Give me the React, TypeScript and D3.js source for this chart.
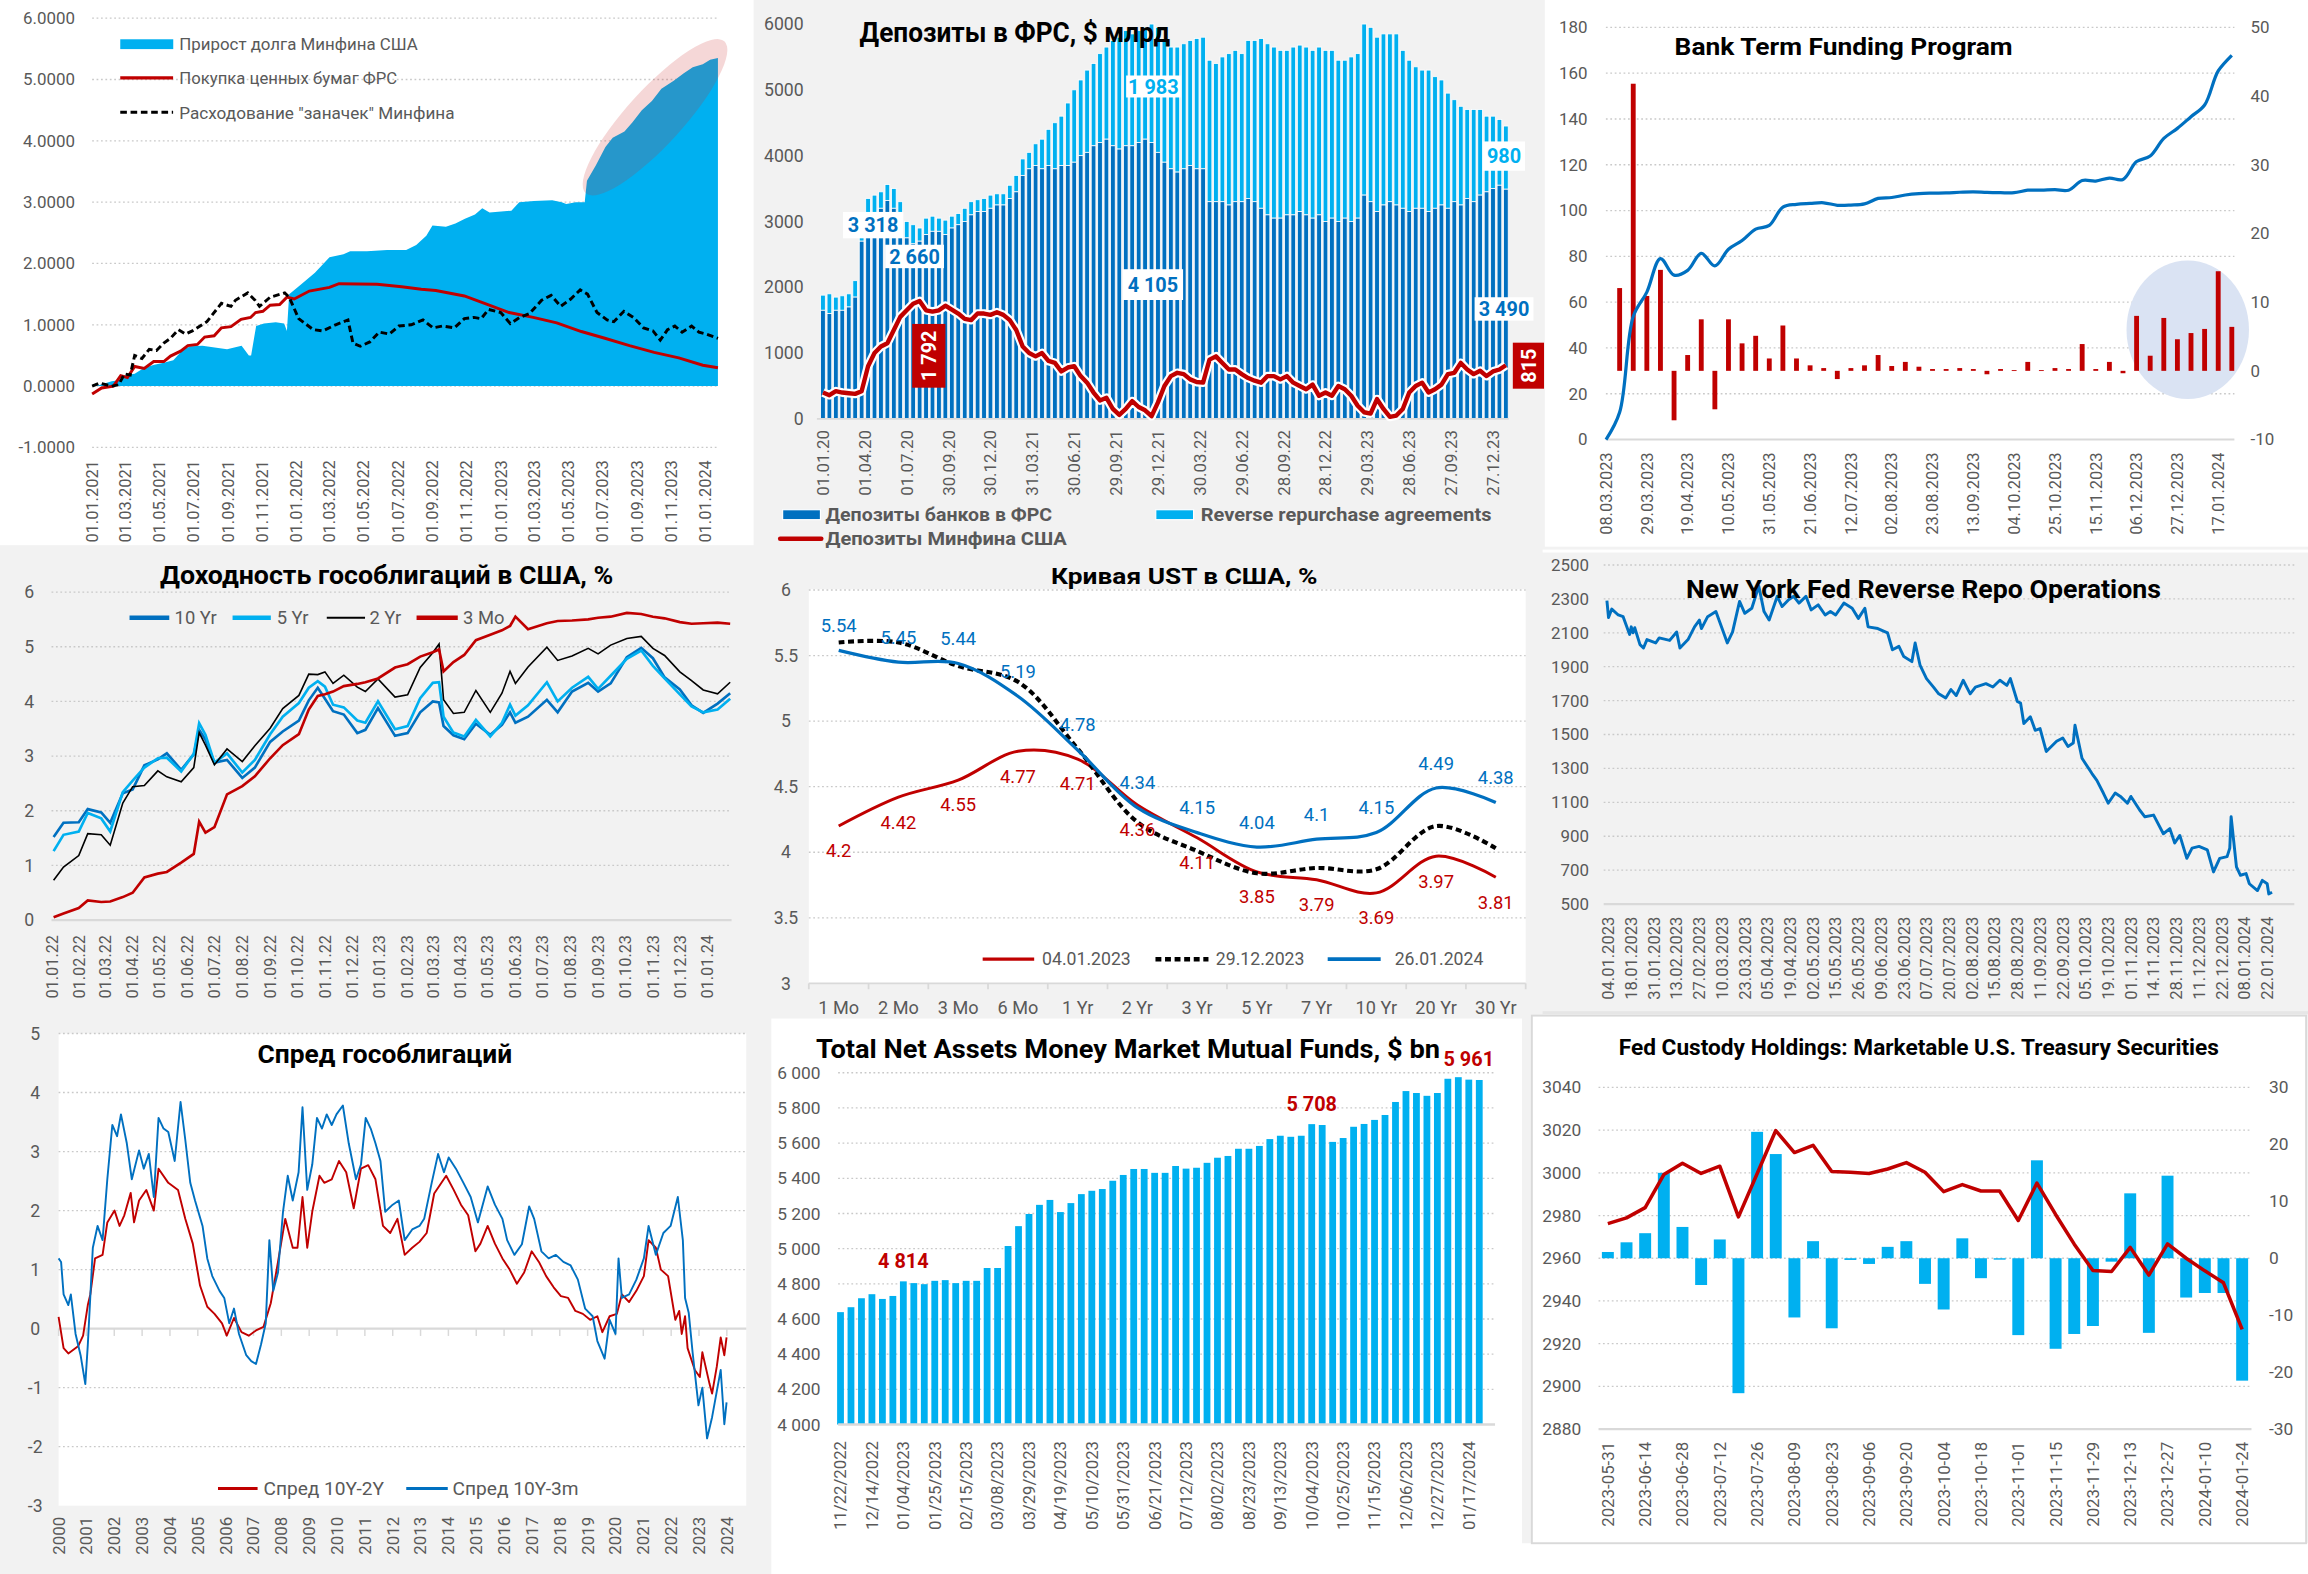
import * as d3 from 'd3'

const FONT = 'Roboto, "Noto Sans", "DejaVu Sans", sans-serif'
const TXT = '#595959'
const GRID = '#c9c9c9'
const AXIS = '#d9d9d9'
const BLUE = '#0070c0'
const LIGHT = '#00b0f0'
const RED = '#c00000'
const PANEL = '#f2f2f2'
const DOT = '1.2 1.8'

const p = d3.timeParse('%Y-%m-%d')
const loc = d3.formatLocale({ decimal: '.', thousands: ' ', grouping: [3], currency: ['', ''], minus: '-' })
const fmt4 = loc.format('.4f')
const fmtSpace = loc.format(',')
const fmtDMY = d3.timeFormat('%d.%m.%Y')
const fmtDMy = d3.timeFormat('%d.%m.%y')

// ---------------- panel 1: debt growth vs Fed purchases
const debtGrowth: [string, number][] = [
  ['2021-01-01', 0], ['2021-01-14', 0.02], ['2021-02-05', 0.08], ['2021-02-22', 0.1], ['2021-03-03', 0.18],
  ['2021-03-18', 0.2], ['2021-04-04', 0.3], ['2021-04-22', 0.35], ['2021-05-09', 0.38], ['2021-05-26', 0.42],
  ['2021-06-13', 0.6], ['2021-06-26', 0.65], ['2021-07-17', 0.66], ['2021-08-08', 0.63], ['2021-08-30', 0.6],
  ['2021-09-25', 0.66], ['2021-10-08', 0.5], ['2021-10-12', 0.5], ['2021-10-21', 0.98], ['2021-11-04', 1.02],
  ['2021-11-25', 1.04], ['2021-12-10', 1.02], ['2021-12-15', 0.9], ['2021-12-19', 1.5], ['2022-01-08', 1.65],
  ['2022-02-03', 1.85], ['2022-03-01', 2.1], ['2022-03-26', 2.15], ['2022-04-07', 2.2], ['2022-05-07', 2.2],
  ['2022-06-12', 2.22], ['2022-07-16', 2.22], ['2022-08-03', 2.3], ['2022-08-21', 2.45], ['2022-09-01', 2.62],
  ['2022-09-25', 2.6], ['2022-10-12', 2.65], ['2022-10-29', 2.73], ['2022-11-16', 2.8], ['2022-11-29', 2.9],
  ['2022-12-12', 2.83], ['2023-01-07', 2.85], ['2023-01-20', 2.86], ['2023-02-03', 3.0], ['2023-03-01', 3.02],
  ['2023-04-03', 3.03], ['2023-04-20', 3.0], ['2023-04-28', 2.97], ['2023-05-15', 3.0], ['2023-05-31', 3.0],
  ['2023-06-04', 3.35], ['2023-06-20', 3.6], ['2023-07-07', 3.9], ['2023-07-20', 4.05], ['2023-08-10', 4.15],
  ['2023-08-24', 4.3], ['2023-09-10', 4.5], ['2023-09-28', 4.65], ['2023-10-15', 4.85], ['2023-11-06', 4.98],
  ['2023-11-24', 5.1], ['2023-12-10', 5.2], ['2023-12-28', 5.25], ['2024-01-10', 5.32], ['2024-01-24', 5.35],
]
const fedPurchases: [string, number][] = [
  ['2021-01-01', -0.13], ['2021-01-18', -0.03], ['2021-02-08', 0], ['2021-02-21', 0.17], ['2021-03-05', 0.14],
  ['2021-03-18', 0.32], ['2021-04-04', 0.29], ['2021-04-21', 0.4], ['2021-05-09', 0.4], ['2021-05-21', 0.49],
  ['2021-06-08', 0.57], ['2021-06-21', 0.66], ['2021-07-08', 0.68], ['2021-07-21', 0.8], ['2021-08-07', 0.82],
  ['2021-08-20', 0.95], ['2021-09-06', 0.97], ['2021-09-24', 1.09], ['2021-10-11', 1.12], ['2021-10-20', 1.2],
  ['2021-11-02', 1.22], ['2021-11-15', 1.32], ['2021-12-02', 1.33], ['2021-12-15', 1.45], ['2021-12-28', 1.42],
  ['2022-01-24', 1.55], ['2022-03-01', 1.61], ['2022-03-18', 1.67], ['2022-05-25', 1.66], ['2022-07-08', 1.62],
  ['2022-08-12', 1.58], ['2022-09-07', 1.56], ['2022-10-28', 1.47], ['2022-12-03', 1.35], ['2023-01-16', 1.2],
  ['2023-02-28', 1.12], ['2023-04-11', 1.03], ['2023-05-25', 0.89], ['2023-07-06', 0.78], ['2023-08-19', 0.66],
  ['2023-10-02', 0.55], ['2023-11-15', 0.46], ['2023-12-28', 0.34], ['2024-01-24', 0.3],
]
const treasuryCash: [string, number][] = [
  ['2021-01-01', 0], ['2021-01-14', 0.05], ['2021-02-05', 0], ['2021-02-17', 0.02], ['2021-02-28', 0.2],
  ['2021-03-10', 0.18], ['2021-03-18', 0.5], ['2021-03-31', 0.45], ['2021-04-13', 0.6], ['2021-04-26', 0.58],
  ['2021-05-09', 0.7], ['2021-05-21', 0.78], ['2021-06-04', 0.92], ['2021-06-17', 0.85], ['2021-06-29', 0.9],
  ['2021-07-25', 1.05], ['2021-08-20', 1.35], ['2021-09-06', 1.3], ['2021-09-14', 1.4], ['2021-10-06', 1.52],
  ['2021-10-19', 1.4], ['2021-10-27', 1.3], ['2021-11-15', 1.45], ['2021-12-11', 1.52], ['2021-12-19', 1.45],
  ['2022-01-05', 1.1], ['2022-01-31', 0.92], ['2022-02-17', 0.9], ['2022-03-12', 1.0], ['2022-04-03', 1.08],
  ['2022-04-12', 0.7], ['2022-04-25', 0.65], ['2022-05-12', 0.72], ['2022-05-29', 0.88], ['2022-06-16', 0.85],
  ['2022-07-03', 0.98], ['2022-07-25', 1.0], ['2022-08-15', 1.08], ['2022-09-02', 0.95], ['2022-09-19', 0.98],
  ['2022-10-10', 0.95], ['2022-10-28', 1.1], ['2022-11-14', 1.12], ['2022-11-27', 1.1], ['2022-12-10', 1.25],
  ['2023-01-01', 1.2], ['2023-01-18', 1.02], ['2023-02-04', 1.12], ['2023-02-21', 1.18], ['2023-03-15', 1.4],
  ['2023-04-01', 1.48], ['2023-04-18', 1.3], ['2023-05-06', 1.42], ['2023-05-23', 1.57], ['2023-06-05', 1.5],
  ['2023-06-22', 1.2], ['2023-07-10', 1.08], ['2023-07-22', 1.05], ['2023-08-09', 1.22], ['2023-08-26', 1.12],
  ['2023-09-13', 0.95], ['2023-09-30', 0.9], ['2023-10-13', 0.75], ['2023-10-26', 0.92], ['2023-11-08', 0.98],
  ['2023-11-21', 0.88], ['2023-12-08', 0.98], ['2023-12-21', 0.88], ['2024-01-03', 0.85], ['2024-01-24', 0.78],
]
const debtTicks = [-1, 0, 1, 2, 3, 4, 5, 6]

// ---------------- panel 2: deposits at the Fed (biweekly from 01.01.2020)
const depStart = '2020-01-01'
const depTotal = [
  1880, 1900, 1850, 1870, 1900, 2100, 2900, 3350, 3400, 3450,
  3560, 3500, 3300, 3000, 2950, 2900, 3050, 3080, 3050, 3020,
  3080, 3120, 3200, 3300, 3330, 3350, 3400, 3420, 3420, 3550,
  3700, 3950, 4050, 4180, 4250, 4400, 4500, 4600, 4800, 5000,
  5150, 5300, 5400, 5550, 5650, 5750, 5800, 5900, 5850, 5900,
  5950, 6000, 5950, 5750, 5650, 5650, 5700, 5750, 5780, 5800,
  5450, 5400, 5500, 5550, 5600, 5550, 5750, 5750, 5780, 5700,
  5650, 5600, 5600, 5650, 5680, 5650, 5600, 5650, 5600, 5600,
  5450, 5450, 5500, 5550, 6000, 5950, 5800, 5850, 5850, 5850,
  5600, 5450, 5350, 5300, 5300, 5200, 5150, 4950, 4850, 4750,
  4700, 4700, 4700, 4600, 4600, 4550, 4450,
]
const depBanks = [
  1650, 1600, 1650, 1650, 1700, 1850, 2700, 3000, 3100, 3200,
  3318, 3200, 3000, 2750, 2660, 2700, 2800, 2850, 2850, 2800,
  2900, 2950, 3000, 3100, 3150, 3150, 3200, 3250, 3250, 3350,
  3450, 3700, 3800, 3850, 3800, 3850, 3800, 3850, 3850, 3900,
  4000, 4050, 4150, 4200, 4250, 4150, 4100, 4150, 4150, 4200,
  4250, 4200, 4050, 3900, 3800, 3750, 3800, 3850, 3800, 3800,
  3300, 3300, 3300, 3250, 3300, 3300, 3350, 3300, 3200, 3100,
  3050, 3050, 3100, 3100, 3150, 3100, 3050, 3100, 3000, 3050,
  3000, 3050, 3000, 3050, 3400, 3300, 3150, 3250, 3300, 3250,
  3200, 3150, 3200, 3200, 3150, 3200, 3250, 3200, 3300, 3250,
  3350, 3300, 3400, 3450, 3500, 3550, 3490,
]
const depTreasury = [
  400, 360, 420, 400, 390, 380, 420, 800, 1000, 1100,
  1150, 1350, 1550, 1650, 1750, 1792, 1650, 1630, 1650, 1720,
  1660, 1600, 1520, 1500, 1600, 1600, 1580, 1620, 1580, 1500,
  1350, 1100, 1000, 950, 1000, 880, 850, 720, 780, 800,
  650, 550, 400, 280, 320, 150, 60, 150, 270, 180,
  130, 40, 250, 500, 650, 700, 680, 600, 560, 550,
  900, 950, 850, 750, 750, 680, 620, 580, 550, 650,
  650, 600, 650, 550, 500, 450, 520, 350, 400, 350,
  500, 450, 350, 200, 100, 80, 300, 150, 30, 50,
  150, 400, 500, 550, 400, 450, 520, 680, 700, 850,
  750, 680, 730, 650, 720, 750, 815,
]
const depTicks = [
  '2020-01-01', '2020-04-01', '2020-07-01', '2020-09-30', '2020-12-30', '2021-03-31', '2021-06-30',
  '2021-09-29', '2021-12-29', '2022-03-30', '2022-06-29', '2022-09-28', '2022-12-28', '2023-03-29',
  '2023-06-28', '2023-09-27', '2023-12-27',
]
const depNotes = [
  { d: '2020-04-19', v: 2944, w: 41, h: 18, text: '3 318', color: BLUE },
  { d: '2020-07-18', v: 2468, w: 40, h: 16, text: '2 660', color: BLUE },
  { d: '2021-12-19', v: 5051, w: 37, h: 15, text: '1 983', color: LIGHT },
  { d: '2021-12-18', v: 2040, w: 41, h: 21, text: '4 105', color: BLUE },
  { d: '2024-01-20', v: 3993, w: 28.5, h: 20, text: '980', color: LIGHT },
  { d: '2024-01-20', v: 1670, w: 40, h: 16, text: '3 490', color: BLUE },
]
const depRedNotes = [
  { d: '2020-08-18', v: 958, w: 22.6, h: 43.5, text: '1 792' },
  { d: '2024-03-13', v: 808, w: 21.2, h: 31.4, text: '815' },
]

// ---------------- panel 3: BTFP (weekly from 08.03.2023)
const btfpBalance = [
  0, 11.9, 53.7, 64.4, 79, 71.8, 73.9, 81.3, 75.8, 83.1,
  86.9, 91.9, 93.5, 101.5, 102.7, 103.1, 103.4, 102.3, 102.4, 102.9,
  105.3, 105.7, 106.8, 107.4, 107.6, 107.7, 108, 108.2, 107.9, 107.8,
  107.8, 108.9, 108.9, 109.1, 108.9, 113.1, 112.9, 114.2, 113.6, 121.4,
  123.8, 131.5, 135.9, 141, 146.1, 161, 167.8,
]
const btfpChange = [
  12.05, 41.8, 10.9, 14.7, -7.2, 2.3, 7.5, -5.6, 7.5, 4.0,
  5.1, 1.8, 6.6, 1.8, 0.8, 0.4, -1.2, 0.4, 0.8, 2.3,
  0.7, 1.3, 0.6, 0.26, 0.26, 0.4, 0.26, -0.5, 0.26, 0.1,
  1.3, 0.1, 0.4, 0.26, 3.9, 0.26, 1.3, -0.35, 8.0, 2.2,
  7.7, 4.6, 5.5, 6.1, 14.5, 6.4,
]
const btfpLabels = [
  '08.03.2023', '29.03.2023', '19.04.2023', '10.05.2023', '31.05.2023', '21.06.2023', '12.07.2023', '02.08.2023',
  '23.08.2023', '13.09.2023', '04.10.2023', '25.10.2023', '15.11.2023', '06.12.2023', '27.12.2023', '17.01.2024',
]

// ---------------- panel 4: treasury yields
const yieldDates = [
  '2022-01-03', '2022-01-14', '2022-01-31', '2022-02-10', '2022-02-25', '2022-03-07', '2022-03-21', '2022-04-01',
  '2022-04-14', '2022-04-29', '2022-05-09', '2022-05-25', '2022-06-08', '2022-06-14', '2022-06-21', '2022-07-01',
  '2022-07-15', '2022-08-01', '2022-08-15', '2022-09-01', '2022-09-15', '2022-10-03', '2022-10-14', '2022-10-24',
  '2022-11-01', '2022-11-10', '2022-11-22', '2022-12-07', '2022-12-16', '2022-12-30', '2023-01-18', '2023-02-01',
  '2023-02-15', '2023-03-01', '2023-03-08', '2023-03-13', '2023-03-24', '2023-04-05', '2023-04-18', '2023-05-04',
  '2023-05-17', '2023-05-26', '2023-06-01', '2023-06-15', '2023-07-06', '2023-07-18', '2023-08-03', '2023-08-21',
  '2023-09-01', '2023-09-15', '2023-10-03', '2023-10-19', '2023-11-01', '2023-11-14', '2023-12-01', '2023-12-14',
  '2023-12-27', '2024-01-12', '2024-01-26',
]
const y10 = [
  1.52, 1.78, 1.79, 2.03, 1.97, 1.78, 2.32, 2.39, 2.83, 2.94, 3.05, 2.75, 3.03, 3.48, 3.3, 2.88, 2.93, 2.6, 2.79, 3.26,
  3.45, 3.65, 4.02, 4.25, 4.05, 3.82, 3.76, 3.42, 3.48, 3.88, 3.37, 3.42, 3.8, 4.0, 3.98, 3.55, 3.38, 3.31, 3.59, 3.39,
  3.57, 3.8, 3.61, 3.72, 4.03, 3.8, 4.18, 4.34, 4.18, 4.33, 4.81, 4.98, 4.79, 4.44, 4.22, 3.93, 3.79, 3.96, 4.15,
]
const y5 = [
  1.26, 1.56, 1.62, 1.96, 1.86, 1.62, 2.34, 2.55, 2.79, 2.96, 2.97, 2.72, 3.04, 3.6, 3.39, 2.88, 3.05, 2.7, 2.93, 3.4,
  3.72, 3.97, 4.25, 4.37, 4.27, 3.94, 3.89, 3.65, 3.61, 4.0, 3.49, 3.55, 4.06, 4.34, 4.35, 3.72, 3.43, 3.36, 3.66, 3.36,
  3.61, 3.94, 3.74, 3.93, 4.35, 4.0, 4.25, 4.45, 4.23, 4.47, 4.78, 4.93, 4.65, 4.42, 4.13, 3.91, 3.8, 3.85, 4.05,
]
const y2 = [
  0.73, 0.97, 1.18, 1.58, 1.56, 1.37, 2.14, 2.44, 2.46, 2.73, 2.62, 2.53, 2.79, 3.43, 3.2, 2.84, 3.13, 2.9, 3.19, 3.51,
  3.87, 4.11, 4.5, 4.49, 4.54, 4.33, 4.48, 4.26, 4.18, 4.41, 4.08, 4.12, 4.62, 4.89, 5.05, 4.03, 3.78, 3.8, 4.2, 3.8,
  4.15, 4.55, 4.33, 4.63, 4.99, 4.75, 4.83, 4.97, 4.87, 5.03, 5.15, 5.19, 4.97, 4.84, 4.54, 4.38, 4.21, 4.14, 4.35,
]
const y3m = [
  0.05, 0.12, 0.22, 0.36, 0.33, 0.34, 0.42, 0.5, 0.78, 0.85, 0.88, 1.05, 1.21, 1.8, 1.6, 1.7, 2.3, 2.45, 2.63, 2.96,
  3.2, 3.4, 3.85, 4.1, 4.13, 4.18, 4.28, 4.32, 4.35, 4.42, 4.62, 4.68, 4.82, 4.9, 4.95, 4.55, 4.72, 4.85, 5.12, 5.22,
  5.3, 5.38, 5.55, 5.32, 5.43, 5.47, 5.48, 5.5, 5.53, 5.55, 5.62, 5.6, 5.55, 5.52, 5.45, 5.42, 5.43, 5.44, 5.42,
]

// ---------------- panel 5: UST curve
const tenors = ['1 Mo', '2 Mo', '3 Mo', '6 Mo', '1 Yr', '2 Yr', '3 Yr', '5 Yr', '7 Yr', '10 Yr', '20 Yr', '30 Yr']
const curveJan23 = [4.2, 4.42, 4.55, 4.77, 4.71, 4.36, 4.11, 3.85, 3.79, 3.69, 3.97, 3.81]
const curveDec23 = [5.6, 5.6, 5.42, 5.3, 4.79, 4.23, 4.01, 3.84, 3.88, 3.87, 4.2, 4.03]
const curveJan24 = [5.54, 5.45, 5.44, 5.19, 4.78, 4.34, 4.15, 4.04, 4.1, 4.15, 4.49, 4.38]

// ---------------- panel 6: NY Fed reverse repo
const rrpData: [string, number][] = [
  ['2023-01-03', 2290], ['2023-01-04', 2190], ['2023-01-06', 2240], ['2023-01-10', 2205], ['2023-01-13', 2195],
  ['2023-01-17', 2090], ['2023-01-18', 2135], ['2023-01-19', 2100], ['2023-01-20', 2130], ['2023-01-23', 2030],
  ['2023-01-25', 2010], ['2023-01-27', 2060], ['2023-02-01', 2040], ['2023-02-03', 2070], ['2023-02-09', 2055],
  ['2023-02-13', 2105], ['2023-02-15', 2010], ['2023-02-20', 2060], ['2023-02-24', 2135], ['2023-02-27', 2175],
  ['2023-02-28', 2125], ['2023-03-03', 2195], ['2023-03-07', 2225], ['2023-03-10', 2125], ['2023-03-13', 2040],
  ['2023-03-16', 2105], ['2023-03-20', 2285], ['2023-03-23', 2215], ['2023-03-27', 2245], ['2023-03-31', 2375],
  ['2023-04-03', 2225], ['2023-04-06', 2175], ['2023-04-11', 2315], ['2023-04-14', 2255], ['2023-04-18', 2295],
  ['2023-04-21', 2315], ['2023-04-24', 2275], ['2023-04-28', 2315], ['2023-05-01', 2235], ['2023-05-05', 2265],
  ['2023-05-09', 2205], ['2023-05-12', 2225], ['2023-05-15', 2205], ['2023-05-19', 2275], ['2023-05-23', 2245],
  ['2023-05-26', 2185], ['2023-05-30', 2245], ['2023-06-01', 2135], ['2023-06-07', 2125], ['2023-06-13', 2100],
  ['2023-06-16', 2000], ['2023-06-20', 2020], ['2023-06-23', 1960], ['2023-06-28', 1930], ['2023-06-30', 2040],
  ['2023-07-03', 1910], ['2023-07-07', 1830], ['2023-07-11', 1780], ['2023-07-14', 1740], ['2023-07-18', 1715],
  ['2023-07-21', 1765], ['2023-07-24', 1730], ['2023-07-28', 1820], ['2023-08-01', 1740], ['2023-08-04', 1780],
  ['2023-08-10', 1800], ['2023-08-14', 1780], ['2023-08-18', 1820], ['2023-08-22', 1790], ['2023-08-24', 1830],
  ['2023-08-28', 1695], ['2023-08-30', 1685], ['2023-09-01', 1565], ['2023-09-05', 1605], ['2023-09-08', 1525],
  ['2023-09-11', 1535], ['2023-09-14', 1400], ['2023-09-19', 1460], ['2023-09-22', 1480], ['2023-09-25', 1430],
  ['2023-09-28', 1450], ['2023-09-29', 1555], ['2023-10-03', 1360], ['2023-10-09', 1270], ['2023-10-12', 1230],
  ['2023-10-16', 1155], ['2023-10-19', 1095], ['2023-10-23', 1155], ['2023-10-26', 1135], ['2023-10-30', 1095],
  ['2023-11-01', 1135], ['2023-11-06', 1055], ['2023-11-09', 1015], ['2023-11-14', 1025], ['2023-11-20', 915],
  ['2023-11-24', 945], ['2023-11-27', 860], ['2023-11-30', 905], ['2023-12-04', 770], ['2023-12-07', 830],
  ['2023-12-11', 840], ['2023-12-15', 820], ['2023-12-18', 690], ['2023-12-21', 770], ['2023-12-26', 780],
  ['2023-12-28', 830], ['2023-12-29', 1015], ['2024-01-02', 720], ['2024-01-05', 670], ['2024-01-09', 680],
  ['2024-01-11', 620], ['2024-01-16', 580], ['2024-01-19', 640], ['2024-01-22', 620], ['2024-01-23', 560],
  ['2024-01-25', 570],
]
const rrpTicks = [
  '2023-01-04', '2023-01-18', '2023-01-31', '2023-02-13', '2023-02-27', '2023-03-10', '2023-03-23', '2023-04-05',
  '2023-04-19', '2023-05-02', '2023-05-15', '2023-05-26', '2023-06-09', '2023-06-23', '2023-07-07', '2023-07-20',
  '2023-08-02', '2023-08-15', '2023-08-28', '2023-09-11', '2023-09-22', '2023-10-05', '2023-10-19', '2023-11-01',
  '2023-11-14', '2023-11-28', '2023-12-11', '2023-12-22', '2024-01-08', '2024-01-22',
]

// ---------------- panel 7: spreads (year, value)
const spread2y: [number, number][] = [
  [2000.0, 0.2], [2000.18, -0.33], [2000.35, -0.42], [2000.7, -0.3], [2000.88, -0.12], [2001.05, 0.4], [2001.14, 0.58],
  [2001.31, 1.19], [2001.58, 1.25], [2001.75, 1.8], [2002.01, 2.0], [2002.19, 1.74], [2002.36, 1.92], [2002.59, 2.3],
  [2002.71, 1.8], [2002.89, 2.17], [2003.15, 2.35], [2003.42, 2.0], [2003.59, 2.71], [2003.94, 2.47], [2004.29, 2.35],
  [2004.55, 1.86], [2004.82, 1.44], [2005.08, 0.73], [2005.34, 0.37], [2005.6, 0.25], [2005.87, 0.09], [2006.04, -0.12],
  [2006.3, 0.18], [2006.57, -0.06], [2006.83, -0.12], [2007.09, -0.03], [2007.36, 0.03], [2007.62, 0.43], [2007.88, 1.13],
  [2008.14, 1.86], [2008.41, 1.37], [2008.58, 1.37], [2008.76, 2.23], [2008.93, 1.37], [2009.11, 1.98], [2009.37, 2.59],
  [2009.54, 2.47], [2009.81, 2.53], [2010.07, 2.84], [2010.33, 2.65], [2010.6, 2.04], [2010.86, 2.71], [2011.12, 2.77],
  [2011.38, 2.53], [2011.65, 1.74], [2011.91, 1.62], [2012.17, 1.86], [2012.43, 1.25], [2012.7, 1.37], [2012.96, 1.47],
  [2013.22, 1.62], [2013.49, 2.29], [2013.75, 2.47], [2013.92, 2.59], [2014.19, 2.35], [2014.45, 2.1], [2014.71, 1.92],
  [2014.97, 1.31], [2015.15, 1.44], [2015.41, 1.74], [2015.67, 1.44], [2015.94, 1.19], [2016.2, 1.0], [2016.46, 0.76],
  [2016.72, 0.95], [2016.99, 1.31], [2017.25, 1.13], [2017.51, 0.89], [2017.78, 0.7], [2018.04, 0.55], [2018.3, 0.52],
  [2018.56, 0.3], [2018.83, 0.25], [2019.09, 0.15], [2019.35, 0.21], [2019.53, -0.06], [2019.79, 0.21], [2020.05, 0.25],
  [2020.23, 0.58], [2020.49, 0.45], [2020.75, 0.64], [2021.02, 0.89], [2021.19, 1.5], [2021.45, 1.37], [2021.63, 1.0],
  [2021.89, 0.89], [2022.15, 0.15], [2022.29, 0.3], [2022.38, -0.09], [2022.5, 0.21], [2022.59, -0.33], [2022.85, -0.7],
  [2023.03, -0.82], [2023.12, -0.4], [2023.38, -0.94], [2023.47, -1.1], [2023.64, -0.64], [2023.78, -0.15],
  [2023.91, -0.45], [2023.99, -0.15],
]
const spread3m: [number, number][] = [
  [2000.0, 1.19], [2000.09, 1.13], [2000.18, 0.58], [2000.35, 0.4], [2000.44, 0.58], [2000.61, -0.09], [2000.79, -0.45],
  [2000.96, -0.94], [2001.05, -0.27], [2001.23, 1.37], [2001.4, 1.74], [2001.58, 1.5], [2001.75, 2.53], [2001.93, 3.45],
  [2002.1, 3.26], [2002.24, 3.63], [2002.45, 3.14], [2002.63, 2.53], [2002.89, 3.02], [2003.06, 2.71], [2003.24, 2.96],
  [2003.42, 2.23], [2003.59, 3.57], [2003.77, 3.39], [2003.94, 3.33], [2004.17, 2.84], [2004.38, 3.84], [2004.55, 3.2],
  [2004.73, 2.47], [2004.9, 2.17], [2005.17, 1.74], [2005.34, 1.19], [2005.52, 0.89], [2005.78, 0.64], [2005.95, 0.52],
  [2006.13, 0.09], [2006.3, 0.34], [2006.48, -0.09], [2006.74, -0.45], [2006.92, -0.55], [2007.09, -0.6], [2007.27, -0.27],
  [2007.44, 0.09], [2007.57, 1.5], [2007.71, 0.64], [2007.88, 0.95], [2008.06, 1.98], [2008.23, 2.59], [2008.41, 2.17],
  [2008.62, 2.65], [2008.76, 3.75], [2008.93, 2.35], [2009.11, 2.78], [2009.28, 3.57], [2009.46, 3.39], [2009.63, 3.63],
  [2009.81, 3.45], [2009.98, 3.63], [2010.21, 3.78], [2010.42, 3.14], [2010.68, 2.53], [2010.86, 2.78], [2011.03, 3.57],
  [2011.21, 3.39], [2011.38, 3.14], [2011.56, 2.84], [2011.73, 1.98], [2012.0, 2.1], [2012.22, 2.17], [2012.43, 1.5],
  [2012.7, 1.68], [2012.96, 1.74], [2013.13, 1.86], [2013.4, 2.47], [2013.63, 2.96], [2013.84, 2.65], [2014.01, 2.9],
  [2014.27, 2.71], [2014.54, 2.47], [2014.8, 2.23], [2015.06, 1.8], [2015.41, 2.41], [2015.67, 2.1], [2015.94, 1.86],
  [2016.11, 1.5], [2016.37, 1.25], [2016.64, 1.43], [2016.9, 2.07], [2017.08, 1.86], [2017.34, 1.31], [2017.6, 1.19],
  [2017.86, 1.25], [2018.13, 1.13], [2018.39, 1.07], [2018.65, 0.83], [2018.91, 0.34], [2019.18, 0.21], [2019.35, -0.21],
  [2019.61, -0.51], [2019.79, 0.15], [2020.0, -0.09], [2020.11, 1.19], [2020.23, 0.52], [2020.49, 0.58], [2020.75, 0.83],
  [2021.02, 1.19], [2021.19, 1.74], [2021.45, 1.25], [2021.72, 1.62], [2021.98, 1.74], [2022.24, 2.23], [2022.42, 1.5],
  [2022.5, 0.52], [2022.63, 0.27], [2022.77, -0.4], [2022.98, -1.3], [2023.12, -1.0], [2023.29, -1.86], [2023.47, -1.5],
  [2023.64, -1.06], [2023.78, -0.7], [2023.91, -1.62], [2023.99, -1.25],
]
const spreadYears = d3.range(2000, 2025)

// ---------------- panel 8: money market funds (weekly)
const mmfAssets = [
  4639, 4667, 4718, 4741, 4714, 4731, 4814, 4804, 4798, 4817,
  4821, 4804, 4817, 4817, 4890, 4890, 5015, 5128, 5197, 5249,
  5277, 5208, 5259, 5310, 5329, 5339, 5386, 5419, 5453, 5453,
  5431, 5431, 5470, 5455, 5460, 5488, 5517, 5527, 5568, 5568,
  5584, 5623, 5642, 5636, 5642, 5708, 5703, 5607, 5629, 5693,
  5709, 5732, 5760, 5834, 5896, 5885, 5869, 5885, 5966, 5975,
  5961, 5959,
]
const mmfLabels = [
  '11/22/2022', '12/14/2022', '01/04/2023', '01/25/2023', '02/15/2023', '03/08/2023', '03/29/2023',
  '04/19/2023', '05/10/2023', '05/31/2023', '06/21/2023', '07/12/2023', '08/02/2023', '08/23/2023',
  '09/13/2023', '10/04/2023', '10/25/2023', '11/15/2023', '12/06/2023', '12/27/2023', '01/17/2024',
]
const mmfMarked = [6, 45, 60]

// ---------------- panel 9: Fed custody holdings (weekly from 2023-05-31)
const custodyLevel = [
  2976.2, 2978.9, 2983.7, 2999.2, 3004.5, 2999.7, 3003.1, 2979.4, 2999.6, 3019.8,
  3009.5, 3012.9, 3000.6, 3000.3, 2999.7, 3001.8, 3004.8, 3000.3, 2991.2, 2994.5,
  2991.5, 2991.5, 2977.7, 2995.2, 2980.5, 2966.6, 2954.3, 2953.8, 2965.1, 2952.1,
  2966.7, 2960.0, 2954.1, 2948.5, 2926.7,
]
const custodyChange = [
  1.1, 2.8, 4.4, 15, 5.5, -4.7, 3.3, -23.7, 22.2, 18.3,
  -10.4, 3, -12.3, -0.3, -1, 2, 3, -4.5, -9, 3.5,
  -3.5, -0.25, -13.5, 17.2, -15.9, -13.3, -11.9, -0.6, 11.4, -13.1,
  14.5, -6.9, -6.1, -6.1, -21.5,
]
const custodyLabels = [
  '2023-05-31', '2023-06-14', '2023-06-28', '2023-07-12', '2023-07-26', '2023-08-09', '2023-08-23', '2023-09-06',
  '2023-09-20', '2023-10-04', '2023-10-18', '2023-11-01', '2023-11-15', '2023-11-29', '2023-12-13', '2023-12-27',
  '2024-01-10', '2024-01-24',
]

// ---------------- helpers
function VText({ x, y, children, size = 11.3, color = TXT }: any) {
  return (
    <text transform={`translate(${x},${y}) rotate(-90)`} textAnchor="end" dy="0.35em" fontSize={size} fill={color}>
      {children}
    </text>
  )
}

function Title({ x, y, w, size, children }: any) {
  return (
    <text x={x} y={y} fontSize={size} fontWeight={700} fill="#000" textLength={w} lengthAdjust="spacingAndGlyphs">
      {children}
    </text>
  )
}

function Dotted({ x1, x2, y }: any) {
  return <line x1={x1} x2={x2} y1={y} y2={y} stroke={GRID} strokeWidth={0.9} strokeDasharray={DOT} />
}

function FitText({ x, y, w, size = 11.5, weight = 400, children }: any) {
  return (
    <text x={x} y={y} fontSize={size} fontWeight={weight} fill={TXT} textLength={w} lengthAdjust="spacingAndGlyphs">
      {children}
    </text>
  )
}

// ---------------- panels
function DebtPanel() {
  const x = d3.scaleTime().domain([p('2021-01-01'), p('2024-01-01')]).range([62.6, 479])
  const y = d3.scaleLinear().domain([-1, 6]).range([305.3, 12.4])
  const area = d3.area<[string, number]>().x(d => x(p(d[0]))).y0(y(0)).y1(d => y(d[1]))
  const line = d3.line<[string, number]>().x(d => x(p(d[0]))).y(d => y(d[1]))
  const months = d3.timeMonth.every(2).range(p('2021-01-01'), p('2024-01-02'))
  return (
    <g>
      <rect x={0} y={0} width={512} height={372} fill="#fff" />
      {debtTicks.map(t => (
        <g key={t}>
          <Dotted x1={62.6} x2={487.4} y={y(t)} />
          <text x={51} y={y(t)} dy="0.35em" textAnchor="end" fontSize={11.5} fill={TXT}>{fmt4(t)}</text>
        </g>
      ))}
      <path d={area(debtGrowth)} fill={LIGHT} />
      <ellipse cx={445} cy={80} rx={70} ry={19} transform="rotate(-47.7 445 80)" fill="rgb(200,40,40)" fillOpacity={0.19} />
      <path d={line(fedPurchases)} fill="none" stroke={RED} strokeWidth={2} />
      <path d={line(treasuryCash)} fill="none" stroke="#000" strokeWidth={2} strokeDasharray="4.5 2.5" />
      <rect x={81.7} y={26.8} width={36} height={6.7} fill={LIGHT} />
      <FitText x={121.8} y={34} w={162}>Прирост долга Минфина США</FitText>
      <line x1={81.7} x2={117.6} y1={53.2} y2={53.2} stroke={RED} strokeWidth={2.2} />
      <FitText x={121.8} y={57.5} w={148}>Покупка ценных бумаг ФРС</FitText>
      <line x1={81.7} x2={117.6} y1={76.6} y2={76.6} stroke="#000" strokeWidth={2.2} strokeDasharray="4.5 2.5" />
      <FitText x={121.8} y={81} w={187}>Расходование "заначек" Минфина</FitText>
      {months.map(d => (
        <VText key={+d} x={x(d)} y={314} size={11.2}>{fmtDMY(d)}</VText>
      ))}
    </g>
  )
}

function DepositsPanel() {
  const start = p(depStart)
  const dates = depBanks.map((_, i) => d3.timeDay.offset(start, 14 * i))
  const x = d3.scaleTime().domain([p('2020-01-01'), p('2023-12-27')]).range([559.1, 1014.3])
  const y = d3.scaleLinear().domain([0, 6000]).range([285.8, 16.4])
  const bw = 3.2
  const line = d3.line<number>().x((_, i) => x(dates[i])).y(d => y(d))
  const tga = line(depTreasury)
  return (
    <g>
      {d3.range(0, 6001, 1000).map(t => (
        <text key={t} x={546} y={y(t)} dy="0.35em" textAnchor="end" fontSize={12} fill={TXT}>{t}</text>
      ))}
      {depBanks.map((b, i) => (
        <g key={i}>
          <rect x={x(dates[i]) - bw / 2} width={bw} y={y(depTotal[i])} height={y(b) - y(depTotal[i])} fill={LIGHT} stroke="#fff" strokeWidth={0.55} />
          <rect x={x(dates[i]) - bw / 2} width={bw} y={y(b)} height={y(0) - y(b)} fill={BLUE} stroke="#fff" strokeWidth={0.55} />
        </g>
      ))}
      <line x1={555} x2={1025} y1={y(0)} y2={y(0)} stroke={AXIS} strokeWidth={1.2} />
      <path d={tga} fill="none" stroke="#fff" strokeWidth={6} strokeLinejoin="round" />
      <path d={tga} fill="none" stroke={RED} strokeWidth={3} strokeLinejoin="round" />
      {depNotes.map(n => {
        const cx = x(p(n.d))
        const cy = y(n.v)
        return (
          <g key={n.text}>
            <rect x={cx - n.w / 2} y={cy - n.h / 2} width={n.w} height={n.h} fill="#fff" />
            <text x={cx} y={cy} dy="0.36em" textAnchor="middle" fontSize={13.5} fontWeight={700} fill={n.color}>{n.text}</text>
          </g>
        )
      })}
      {depRedNotes.map(n => {
        const cx = x(p(n.d))
        const cy = y(n.v)
        return (
          <g key={n.text}>
            <rect x={cx - n.w / 2} y={cy - n.h / 2} width={n.w} height={n.h} fill={RED} />
            <text transform={`translate(${cx},${cy}) rotate(-90)`} dy="0.36em" textAnchor="middle" fontSize={13.5} fontWeight={700} fill="#fff">{n.text}</text>
          </g>
        )
      })}
      <Title x={584} y={29} w={211} size={18.5}>Депозиты в ФРС, $ млрд</Title>
      {depTicks.map(d => (
        <VText key={d} x={x(p(d))} y={293.5} size={11.5}>{fmtDMy(p(d))}</VText>
      ))}
      <rect x={531.7} y={347.8} width={25.7} height={6.8} fill={BLUE} stroke="#fff" strokeWidth={0.8} />
      <FitText x={560.8} y={355.5} w={154} size={12.6} weight={700}>Депозиты банков в ФРС</FitText>
      <rect x={785.2} y={347.8} width={25.7} height={6.8} fill={LIGHT} stroke="#fff" strokeWidth={0.8} />
      <FitText x={815.7} y={355.5} w={197.6} size={12.6} weight={700}>Reverse repurchase agreements</FitText>
      <line x1={530} x2={558} y1={367.6} y2={367.6} stroke={RED} strokeWidth={3} strokeLinecap="round" />
      <FitText x={560.8} y={372} w={164} size={12.6} weight={700}>Депозиты Минфина США</FitText>
    </g>
  )
}

function BtfpPanel() {
  const x = d3.scaleLinear().domain([0, 45]).range([1091.1, 1507])
  const yL = d3.scaleLinear().domain([0, 180]).range([299.9, 18.7])
  const yR = d3.scaleLinear().domain([-10, 50]).range([299.9, 18.7])
  const line = d3.line<number>().x((_, i) => x(i)).y(d => yL(d)).curve(d3.curveCatmullRom.alpha(0.5))
  return (
    <g>
      <rect x={1049.5} y={0} width={518.5} height={373} fill="#fff" />
      {d3.range(20, 181, 20).map(t => <Dotted key={t} x1={1091} x2={1518} y={yL(t)} />)}
      <line x1={1091} x2={1518} y1={yL(0)} y2={yL(0)} stroke={AXIS} strokeWidth={1.3} />
      {d3.range(0, 181, 20).map(t => (
        <text key={t} x={1078.5} y={yL(t)} dy="0.35em" textAnchor="end" fontSize={11.5} fill={TXT}>{t}</text>
      ))}
      {d3.range(-10, 51, 10).map(t => (
        <text key={t} x={1529} y={yR(t)} dy="0.35em" fontSize={11.5} fill={TXT}>{t}</text>
      ))}
      <Title x={1137.7} y={37.8} w={229.6} size={16}>Bank Term Funding Program</Title>
      <ellipse cx={1486.3} cy={225} rx={41.6} ry={47.2} fill="#dae3f3" />
      {btfpChange.map((v, i) => (
        <rect key={i} x={x(i + 1) - 1.65} width={3.3} y={Math.min(yR(v), yR(0))} height={Math.max(0.6, Math.abs(yR(v) - yR(0)))} fill={RED} />
      ))}
      <path d={line(btfpBalance)} fill="none" stroke={BLUE} strokeWidth={2.2} />
      {btfpLabels.map((l, k) => (
        <VText key={l} x={x(3 * k)} y={308.7} size={11.2}>{l}</VText>
      ))}
    </g>
  )
}

function YieldsPanel() {
  const x = d3.scaleTime().domain([p('2022-01-01'), p('2024-01-01')]).range([35.2, 480.8])
  const y = d3.scaleLinear().domain([0, 6]).range([627.8, 404])
  const dates = yieldDates.map(s => p(s))
  const path = (arr: number[]) => d3.line<number>().x((_, i) => x(dates[i])).y(d => y(d))(arr)
  const months = d3.timeMonth.range(p('2022-01-01'), p('2024-01-02'))
  const legend = [
    { label: '10 Yr', color: BLUE, w: 3, x1: 88, x2: 115, tx: 118.6 },
    { label: '5 Yr', color: LIGHT, w: 3, x1: 158, x2: 184, tx: 188 },
    { label: '2 Yr', color: '#000', w: 1.5, x1: 222, x2: 248, tx: 251 },
    { label: '3 Mo', color: RED, w: 3, x1: 283, x2: 311, tx: 314.6 },
  ]
  return (
    <g>
      {d3.range(1, 7).map(t => <Dotted key={t} x1={35} x2={497} y={y(t)} />)}
      <line x1={35} x2={497} y1={y(0)} y2={y(0)} stroke={AXIS} strokeWidth={1.5} />
      {d3.range(0, 7).map(t => (
        <text key={t} x={19.8} y={y(t)} dy="0.35em" textAnchor="middle" fontSize={12} fill={TXT}>{t}</text>
      ))}
      <path d={path(y10)} fill="none" stroke={BLUE} strokeWidth={1.8} />
      <path d={path(y5)} fill="none" stroke={LIGHT} strokeWidth={1.8} />
      <path d={path(y2)} fill="none" stroke="#000" strokeWidth={1.1} />
      <path d={path(y3m)} fill="none" stroke={RED} strokeWidth={1.8} />
      {legend.map(l => (
        <g key={l.label}>
          <line x1={l.x1} x2={l.x2} y1={421.5} y2={421.5} stroke={l.color} strokeWidth={l.w} />
          <text x={l.tx} y={421.5} dy="0.35em" fontSize={12.5} fill={TXT}>{l.label}</text>
        </g>
      ))}
      <Title x={108.7} y={398.7} w={308} size={17}>Доходность гособлигаций в США, %</Title>
      {months.map(d => (
        <VText key={+d} x={x(d)} y={638} size={11.1}>{fmtDMy(d)}</VText>
      ))}
    </g>
  )
}

function CurvePanel() {
  const x = d3.scaleBand().domain(tenors).range([549.5, 1036.5])
  const y = d3.scaleLinear().domain([3, 6]).range([671, 402.6])
  const cx = (i: number) => x(tenors[i]) + x.bandwidth() / 2
  const line = d3.line<number>().x((_, i) => cx(i)).y(d => y(d)).curve(d3.curveCatmullRom.alpha(0.5))
  const legend = [
    { label: '04.01.2023', color: RED, dash: undefined, w: 2.2, x1: 667.6, x2: 702.6, tx: 708 },
    { label: '29.12.2023', color: '#000', dash: '4 2.5', w: 3, x1: 785, x2: 821, tx: 826 },
    { label: '26.01.2024', color: BLUE, dash: undefined, w: 2.5, x1: 902, x2: 938, tx: 947.5 },
  ]
  return (
    <g>
      <rect x={549.5} y={402} width={487} height={269} fill="#fff" />
      {d3.range(3.5, 6.01, 0.5).map(t => <Dotted key={t} x1={549.5} x2={1036.5} y={y(t)} />)}
      <line x1={549.5} x2={1036.5} y1={y(3)} y2={y(3)} stroke={AXIS} strokeWidth={1.3} />
      {d3.range(0, tenors.length + 1).map(i => {
        const bx = 549.5 + i * x.step()
        return <line key={i} x1={bx} x2={bx} y1={y(3)} y2={y(3) + 4} stroke={AXIS} strokeWidth={1.2} />
      })}
      {d3.range(3, 6.01, 0.5).map(t => (
        <text key={t} x={534} y={y(t)} dy="0.35em" textAnchor="middle" fontSize={12} fill={TXT}>{String(t)}</text>
      ))}
      {tenors.map((t, i) => (
        <text key={t} x={cx(i)} y={687.4} dy="0.35em" textAnchor="middle" fontSize={12.3} fill={TXT}>{t}</text>
      ))}
      <path d={line(curveJan23)} fill="none" stroke={RED} strokeWidth={2} />
      <path d={line(curveDec23)} fill="none" stroke="#000" strokeWidth={2.8} strokeDasharray="4 2.5" />
      <path d={line(curveJan24)} fill="none" stroke={BLUE} strokeWidth={2.2} />
      {curveJan24.map((v, i) => (
        <text key={'b' + i} x={cx(i)} y={y(v) - 17} dy="0.35em" textAnchor="middle" fontSize={12.5} fill={BLUE}>{String(v)}</text>
      ))}
      {curveJan23.map((v, i) => (
        <text key={'r' + i} x={cx(i)} y={y(v) + 17} dy="0.35em" textAnchor="middle" fontSize={12.5} fill={RED}>{String(v)}</text>
      ))}
      {legend.map(l => (
        <g key={l.label}>
          <line x1={l.x1} x2={l.x2} y1={654.5} y2={654.5} stroke={l.color} strokeWidth={l.w} strokeDasharray={l.dash} />
          <text x={l.tx} y={654.5} dy="0.35em" fontSize={12} fill={TXT}>{l.label}</text>
        </g>
      ))}
      <Title x={714} y={398.7} w={181} size={15.5}>Кривая UST в США, %</Title>
    </g>
  )
}

function RrpPanel() {
  const ticks = rrpTicks.map(s => p(s))
  const x = d3.scaleTime().domain(ticks).range(ticks.map((_, i) => 1092.8 + i * 15.43))
  const y = d3.scaleLinear().domain([500, 2500]).range([616.9, 385.5])
  const line = d3.line<[string, number]>().x(d => x(p(d[0]))).y(d => y(d[1]))
  return (
    <g>
      <rect x={1048} y={375} width={520} height={2} fill="#fff" />
      {d3.range(700, 2501, 200).map(t => <Dotted key={t} x1={1089.5} x2={1558.7} y={y(t)} />)}
      <line x1={1089.5} x2={1558.7} y1={y(500)} y2={y(500)} stroke={AXIS} strokeWidth={1.5} />
      {d3.range(500, 2501, 200).map(t => (
        <text key={t} x={1079.5} y={y(t)} dy="0.35em" textAnchor="end" fontSize={11.5} fill={TXT}>{t}</text>
      ))}
      <path d={line(rrpData)} fill="none" stroke={BLUE} strokeWidth={2} strokeLinejoin="round" />
      <Title x={1145.4} y={407.8} w={322.7} size={17}>New York Fed Reverse Repo Operations</Title>
      {ticks.map((d, i) => (
        <VText key={i} x={x(d)} y={625.5} size={11.3}>{fmtDMY(d)}</VText>
      ))}
      <rect x={1048} y={690} width={520} height={2} fill="#e6e6e6" />
    </g>
  )
}

function SpreadPanel() {
  const x = d3.scaleLinear().domain([2000, 2024]).range([39.8, 493.8])
  const y = d3.scaleLinear().domain([-3, 5]).range([1027.4, 705.2])
  const line = d3.line<[number, number]>().x(d => x(d[0])).y(d => y(d[1]))
  return (
    <g>
      <rect x={39.8} y={705.2} width={467.2} height={322.2} fill="#fff" />
      {d3.range(-2, 6).filter(t => t !== 0).map(t => <Dotted key={t} x1={39.8} x2={507} y={y(t)} />)}
      <line x1={39.8} x2={507} y1={y(0)} y2={y(0)} stroke={AXIS} strokeWidth={1.6} />
      {spreadYears.map(yr => (
        <line key={yr} x1={x(yr)} x2={x(yr)} y1={y(0)} y2={y(0) + 5} stroke={AXIS} strokeWidth={1} />
      ))}
      {d3.range(-3, 6).map(t => (
        <text key={t} x={23.9} y={y(t)} dy="0.35em" textAnchor="middle" fontSize={12} fill={TXT}>{t}</text>
      ))}
      <path d={line(spread2y)} fill="none" stroke={RED} strokeWidth={1.3} strokeLinejoin="round" />
      <path d={line(spread3m)} fill="none" stroke={BLUE} strokeWidth={1.3} strokeLinejoin="round" />
      <Title x={175} y={725.5} w={173} size={17}>Спред гособлигаций</Title>
      <line x1={148.1} x2={175} y1={1015.6} y2={1015.6} stroke={RED} strokeWidth={2} />
      <text x={179} y={1015.6} dy="0.35em" fontSize={13} fill={TXT}>Спред 10Y-2Y</text>
      <line x1={276} x2={304.2} y1={1015.6} y2={1015.6} stroke={BLUE} strokeWidth={2} />
      <text x={307.5} y={1015.6} dy="0.35em" fontSize={13} fill={TXT}>Спред 10Y-3m</text>
      {spreadYears.map(yr => (
        <VText key={yr} x={x(yr)} y={1035} size={11.5}>{yr}</VText>
      ))}
    </g>
  )
}

function MmfPanel() {
  const x = d3.scaleBand<number>().domain(d3.range(mmfAssets.length)).range([568, 1008]).paddingInner(0.35).paddingOuter(0.1)
  const y = d3.scaleLinear().domain([4000, 6000]).range([972, 732])
  const bw = x.bandwidth()
  return (
    <g>
      <rect x={524} y={695} width={510} height={379} fill="#fff" />
      {d3.range(4200, 6001, 200).map(t => <Dotted key={t} x1={569.4} x2={1015.7} y={y(t)} />)}
      {d3.range(4000, 6001, 200).map(t => (
        <text key={t} x={557.5} y={y(t)} dy="0.35em" textAnchor="end" fontSize={11.8} fill={TXT}>{fmtSpace(t)}</text>
      ))}
      {mmfAssets.map((v, i) => (
        <rect key={i} x={x(i)} width={bw} y={y(v)} height={y(4000) - y(v)} fill={LIGHT} />
      ))}
      <line x1={569.4} x2={1015.7} y1={y(4000)} y2={y(4000)} stroke={AXIS} strokeWidth={1.8} />
      {mmfMarked.map(i => (
        <text key={i} x={x(i) + bw / 2} y={y(mmfAssets[i]) - 14} dy="0.35em" textAnchor="middle" fontSize={13.5} fontWeight={700} fill={RED}>
          {fmtSpace(mmfAssets[i])}
        </text>
      ))}
      <Title x={554.3} y={721.8} w={424} size={17.5}>Total Net Assets Money Market Mutual Funds, $ bn</Title>
      {mmfLabels.map((l, k) => (
        <VText key={l} x={x(3 * k) + bw / 2} y={983.3} size={11.4}>{l}</VText>
      ))}
    </g>
  )
}

function CustodyPanel() {
  const x = d3.scaleBand<number>().domain(d3.range(custodyLevel.length)).range([1086, 1529.6]).paddingInner(0.36).paddingOuter(0.18)
  const yL = d3.scaleLinear().domain([2880, 3040]).range([975.1, 742])
  const yR = d3.scaleLinear().domain([-30, 30]).range([975.1, 742])
  const bw = x.bandwidth()
  const cx = (i: number) => x(i) + bw / 2
  const line = d3.line<number>().x((_, i) => cx(i)).y(d => yL(d))
  return (
    <g>
      <rect x={1034} y={1053} width={534} height={21} fill="#fff" />
      <rect x={1040.7} y={693} width={526} height={360} fill="#fff" stroke="#d9d9d9" strokeWidth={1.3} />
      {d3.range(2900, 3041, 20).map(t => <Dotted key={t} x1={1086} x2={1529.6} y={yL(t)} />)}
      <line x1={1086} x2={1529.6} y1={yL(2880)} y2={yL(2880)} stroke={AXIS} strokeWidth={1.5} />
      {d3.range(2880, 3041, 20).map(t => (
        <text key={t} x={1074.3} y={yL(t)} dy="0.35em" textAnchor="end" fontSize={11.8} fill={TXT}>{t}</text>
      ))}
      {d3.range(-30, 31, 10).map(t => (
        <text key={t} x={1541.5} y={yR(t)} dy="0.35em" fontSize={11.8} fill={TXT}>{t}</text>
      ))}
      {custodyChange.map((v, i) => (
        <rect key={i} x={x(i)} width={bw} y={Math.min(yR(v), yR(0))} height={Math.max(0.6, Math.abs(yR(v) - yR(0)))} fill={LIGHT} />
      ))}
      <path d={line(custodyLevel)} fill="none" stroke={RED} strokeWidth={2.4} strokeLinejoin="round" />
      <Title x={1099.8} y={719.9} w={407.7} size={15.5}>Fed Custody Holdings: Marketable U.S. Treasury Securities</Title>
      {custodyLabels.map((l, k) => (
        <VText key={l} x={cx(2 * k)} y={983.8} size={11.5}>{l}</VText>
      ))}
    </g>
  )
}

export default function App() {
  return (
    <svg
      width={2308}
      height={1574}
      viewBox="0 0 1568 1074"
      preserveAspectRatio="none"
      style={{ position: 'absolute', left: 0, top: 0, fontFamily: FONT }}
    >
      <rect x={0} y={0} width={1568} height={1074} fill={PANEL} />
      <DebtPanel />
      <BtfpPanel />
      <DepositsPanel />
      <YieldsPanel />
      <CurvePanel />
      <RrpPanel />
      <SpreadPanel />
      <MmfPanel />
      <CustodyPanel />
    </svg>
  )
}
